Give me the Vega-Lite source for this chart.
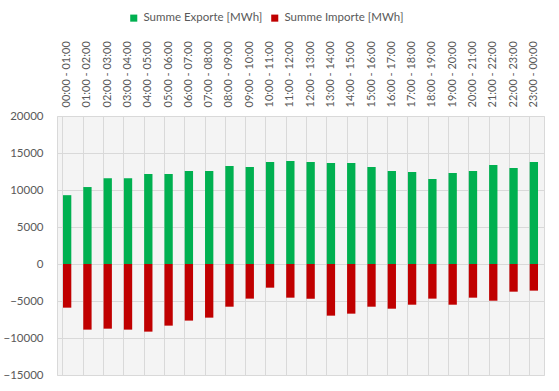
{
  "$schema": "https://vega.github.io/schema/vega-lite/v6.json",
  "autosize": "none",
  "width": 487,
  "height": 259,
  "padding": {"left": 57, "top": 116, "right": 15, "bottom": 16},
  "background": "white",
  "datasets": {
    "hours": [
      {"h": "00:00 - 01:00", "exp": 9300, "imp": -5900},
      {"h": "01:00 - 02:00", "exp": 10400, "imp": -8870},
      {"h": "02:00 - 03:00", "exp": 11600, "imp": -8740},
      {"h": "03:00 - 04:00", "exp": 11600, "imp": -8870},
      {"h": "04:00 - 05:00", "exp": 12160, "imp": -9140},
      {"h": "05:00 - 06:00", "exp": 12160, "imp": -8330},
      {"h": "06:00 - 07:00", "exp": 12570, "imp": -7650},
      {"h": "07:00 - 08:00", "exp": 12570, "imp": -7250},
      {"h": "08:00 - 09:00", "exp": 13240, "imp": -5770},
      {"h": "09:00 - 10:00", "exp": 13100, "imp": -4680},
      {"h": "10:00 - 11:00", "exp": 13780, "imp": -3200},
      {"h": "11:00 - 12:00", "exp": 13920, "imp": -4550},
      {"h": "12:00 - 13:00", "exp": 13780, "imp": -4680},
      {"h": "13:00 - 14:00", "exp": 13650, "imp": -6980},
      {"h": "14:00 - 15:00", "exp": 13650, "imp": -6710},
      {"h": "15:00 - 16:00", "exp": 13100, "imp": -5770},
      {"h": "16:00 - 17:00", "exp": 12570, "imp": -6040},
      {"h": "17:00 - 18:00", "exp": 12430, "imp": -5500},
      {"h": "18:00 - 19:00", "exp": 11490, "imp": -4680},
      {"h": "19:00 - 20:00", "exp": 12300, "imp": -5500},
      {"h": "20:00 - 21:00", "exp": 12570, "imp": -4550},
      {"h": "21:00 - 22:00", "exp": 13380, "imp": -4960},
      {"h": "22:00 - 23:00", "exp": 12970, "imp": -3740},
      {"h": "23:00 - 00:00", "exp": 13780, "imp": -3600}
    ]
  },
  "data": {"name": "hours"},
  "transform": [
    {"fold": ["exp", "imp"], "as": ["key", "value"]},
    {"calculate": "datum.key === 'exp' ? 'Summe Exporte [MWh]' : 'Summe Importe [MWh]'", "as": "series"}
  ],
  "mark": {"type": "bar"},
  "encoding": {
    "x": {
      "field": "h",
      "type": "nominal",
      "sort": null,
      "title": null,
      "scale": {"paddingInner": 0.59, "paddingOuter": 0.295},
      "axis": {
        "orient": "top",
        "labelAngle": -90,
        "labelPadding": 9,
        "ticks": false,
        "domain": false,
        "grid": true,
        "bandPosition": 0,
        "gridColor": "#d9d9d9",
        "labelFont": "Lato",
        "labelFontSize": 11,
        "labelColor": "#595959"
      }
    },
    "y": {
      "field": "value",
      "type": "quantitative",
      "stack": null,
      "title": null,
      "scale": {"domain": [-15000, 20000], "nice": false},
      "axis": {
        "values": [-15000, -10000, -5000, 0, 5000, 10000, 15000, 20000],
        "format": "d",
        "ticks": false,
        "domain": false,
        "grid": true,
        "gridColor": "#d9d9d9",
        "labelPadding": 14,
        "labelFont": "Lato",
        "labelFontSize": 11.5,
        "labelColor": "#595959"
      }
    },
    "color": {
      "field": "series",
      "type": "nominal",
      "scale": {"domain": ["Summe Exporte [MWh]", "Summe Importe [MWh]"], "range": ["#00b050", "#c00000"]},
      "legend": {
        "title": null,
        "orient": "none",
        "direction": "horizontal",
        "legendX": 71,
        "legendY": -104,
        "symbolType": "square",
        "symbolSize": 50,
        "symbolStrokeWidth": 0,
        "columnPadding": 6,
        "labelFont": "Lato",
        "labelFontSize": 11.5,
        "labelColor": "#595959",
        "labelOffset": 4
      }
    }
  },
  "config": {
    "view": {"fill": "#f4f4f4", "stroke": "#d9d9d9"}
  }
}
